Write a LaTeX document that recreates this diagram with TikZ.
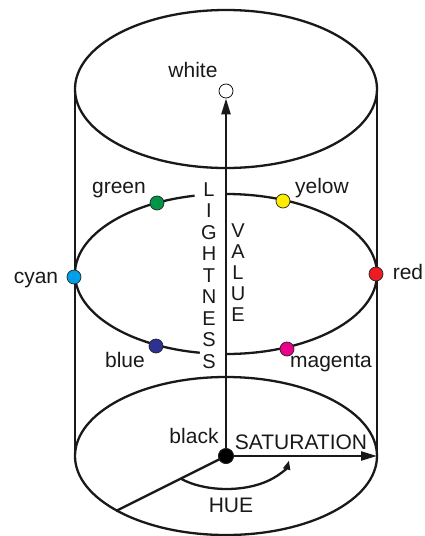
\documentclass[tikz,border=0pt]{standalone}
\usepackage{fontspec}
\setmainfont{Liberation Sans}
\usetikzlibrary{arrows.meta}
\definecolor{cgreen}{RGB}{0,150,70}
\definecolor{cyellow}{RGB}{255,237,0}
\definecolor{ccyan}{RGB}{0,160,233}
\definecolor{cred}{RGB}{237,28,36}
\definecolor{cblue}{RGB}{46,49,146}
\definecolor{cmagenta}{RGB}{236,0,140}
\begin{document}
\begin{tikzpicture}[x=1pt,y=-1pt,
  line/.style={line width=2.3pt,draw=black!90},
  dot/.style={circle,draw=black!85,line width=0.7pt,minimum size=14pt,inner sep=0pt},
  lbl/.style={font=\fontsize{21}{24}\selectfont,anchor=base,inner sep=0pt,text=black!90},
  letter/.style={font=\fontsize{20}{24}\selectfont,anchor=base,inner sep=0pt,text=black!90},
  tip/.style={-{Triangle[length=16pt,width=9pt]}}]
\useasboundingbox (0,0) rectangle (425,536);
% cylinder
\draw[line] (226,89) ellipse [x radius=151, y radius=79];
\draw[line] (226,456) ellipse [x radius=151, y radius=79];
\coordinate (tl) at (75,89);
\coordinate (bl) at (75,456);
\coordinate (tr) at (377,89);
\coordinate (br) at (377,456);
\draw[line] (tl) -- (bl);
\draw[line] (tr) -- (br);
% middle ellipse (interrupted by LIGHTNESS)
\draw[line] (194.6,195.7) arc[start angle=258, end angle=100, x radius=151, y radius=80];
\draw[line] (226,194) arc[start angle=270, end angle=450, x radius=151, y radius=80];
% axis
\node[dot,fill=black,minimum size=15pt] (k) at (226,456) {};
\node[dot,fill=white,draw=black] (w) at (226,91) {};
\draw[line,tip] (k.center) -- (w.south);
\draw[line,tip] (k.center) -- (br);
\coordinate (h) at (116,511);
\draw[line] (k.center) -- (h);
\coordinate (hs) at (180.5,478.5);
\draw[line,-{Triangle[length=9pt,width=7pt]}] (hs) arc[start angle=137, end angle=8, x radius=63, y radius=33];
\node[dot,fill=black,minimum size=15pt] (k2) at (226,456) {};
% colour dots
\node[dot,fill=cgreen] (g) at (157,203) {};
\node[dot,fill=cyellow] (y) at (283,201) {};
\node[dot,fill=ccyan] (c) at (74,277) {};
\node[dot,fill=cred] (r) at (376,274) {};
\node[dot,fill=cblue] (b) at (156,346) {};
\node[dot,fill=cmagenta] (m) at (287,349) {};
% labels
\node[lbl] (tw) at (193,77) {white};
\node[lbl] (tg) at (119,193) {green};
\node[lbl] (ty) at (322,193) {yelow};
\node[lbl] (tc) at (36,283) {cyan};
\node[lbl] (tr2) at (408,279) {red};
\node[lbl] (tb) at (125,367) {blue};
\node[lbl] (tm) at (331,367) {magenta};
\node[lbl] (tk) at (194,443) {black};
\node[lbl] (ts) at (301,449) {SATURATION};
\node[lbl] (th) at (231,512) {HUE};
% LIGHTNESS
\foreach \l [count=\i] in {L,I,G,H,T,N,E,S,S}
  \node[letter] (ln\i) at (209,{196+21.5*(\i-1)}) {\l};
% VALUE
\foreach \l [count=\i] in {V,A,L,U,E}
  \node[letter] (va\i) at (238,{237+21*(\i-1)}) {\l};
\end{tikzpicture}
\end{document}
